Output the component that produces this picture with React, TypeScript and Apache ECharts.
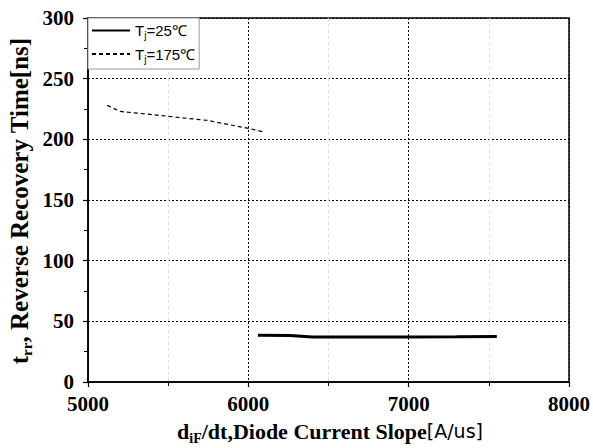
import React, { useEffect, useRef } from "react";
import * as echarts from "echarts";

const xTicks = [5000, 6000, 7000, 8000];
const yTicks = [0, 50, 100, 150, 200, 250, 300];
const seriesNames = ["Tj=25℃", "Tj=175℃"];
const tj25X = [6060, 6260, 6400, 6700, 7000, 7300, 7550];
const tj25Y = [38.5, 38.3, 37.0, 37.0, 37.0, 37.2, 37.6];
const tj175X = [5120, 5200, 5500, 5750, 6000, 6100];
const tj175Y = [228, 223, 219, 215.5, 209, 206];

const serif = "Liberation Serif";
const sans = "Liberation Sans";

export default function App() {
  const ref = useRef<HTMLDivElement>(null);
  useEffect(() => {
    if (!ref.current) return;
    const chart = echarts.init(ref.current, null, { renderer: "svg" });
    const zip = (xs: number[], ys: number[]) => xs.map((x, i) => [x, ys[i]]);
    const tickLabel = {
      fontFamily: serif,
      fontWeight: "bold",
      fontSize: 21,
      color: "#000",
      formatter: (v: number) => "{n|" + String(v) + "}",
      rich: {
        n: { fontFamily: serif, fontWeight: "bold", fontSize: 21, color: "#000" },
      },
    };
    chart.setOption({
      animation: false,
      backgroundColor: "#fff",
      textStyle: { fontFamily: serif },
      grid: {
        left: 88,
        right: 24,
        top: 18,
        bottom: 66,
        show: true,
        borderColor: "#000",
        borderWidth: 1.5,
      },
      legend: {
        left: 88,
        top: 18,
        orient: "vertical",
        itemWidth: 38,
        itemHeight: 14,
        itemGap: 6,
        padding: [5, 4, 5, 3],
        borderColor: "#999",
        borderWidth: 1,
        backgroundColor: "#fff",
        data: seriesNames,
        itemStyle: { opacity: 0 },
        formatter: (name: string) => {
          const rest = name.slice(2);
          return "{t|T}{s|j}{t|" + rest + "}";
        },
        textStyle: {
          fontFamily: sans,
          rich: {
            t: { fontFamily: sans, fontSize: 15, color: "#000", lineHeight: 20 },
            s: { fontFamily: sans, fontSize: 10, color: "#000", verticalAlign: "bottom", lineHeight: 20 },
          },
        },
      },
      xAxis: {
        type: "value",
        min: xTicks[0],
        max: xTicks[xTicks.length - 1],
        interval: 1000,
        axisLine: { show: true, lineStyle: { color: "#000", width: 1.5 } },
        axisTick: { show: true, inside: false, length: 5, lineStyle: { color: "#000", width: 1.2 } },
        minorTick: { show: true, splitNumber: 2, length: 4, lineStyle: { color: "#000", width: 1 } },
        splitLine: { show: true, lineStyle: { color: "#000", type: [2, 2], width: 1 } },
        minorSplitLine: { show: true, lineStyle: { color: "#ddd", type: [3, 3], width: 1 } },
        axisLabel: { ...tickLabel, margin: 11 },
      },
      yAxis: {
        type: "value",
        min: yTicks[0],
        max: yTicks[yTicks.length - 1],
        interval: 50,
        axisLine: { show: true, lineStyle: { color: "#000", width: 1.5 } },
        axisTick: { show: true, inside: false, length: 5, lineStyle: { color: "#000", width: 1.2 } },
        minorTick: { show: true, splitNumber: 2, length: 4, lineStyle: { color: "#000", width: 1 } },
        splitLine: { show: true, lineStyle: { color: "#000", type: [2, 2], width: 1 } },
        axisLabel: { ...tickLabel, margin: 14 },
      },
      graphic: [
        {
          type: "text",
          x: 330,
          y: 431,
          style: {
            text: "{b|d}{bs|iF}{b|/dt,Diode Current Slope}{a|[A/us]}",
            align: "center",
            verticalAlign: "middle",
            rich: {
              b: { fontFamily: serif, fontWeight: "bold", fontSize: 22, fill: "#000", lineHeight: 28 },
              bs: { fontFamily: serif, fontWeight: "bold", fontSize: 14, fill: "#000", verticalAlign: "bottom", lineHeight: 28 },
              a: { fontFamily: "DejaVu Sans", fontSize: 19, fill: "#000", lineHeight: 28 },
            },
          },
        },
        {
          type: "text",
          x: 19,
          y: 201,
          rotation: Math.PI / 2,
          style: {
            text: "{b|t}{bs|rr}{b|, Reverse Recovery Time[ns]}",
            align: "center",
            verticalAlign: "middle",
            rich: {
              b: { fontFamily: serif, fontWeight: "bold", fontSize: 25, fill: "#000", lineHeight: 30 },
              bs: { fontFamily: serif, fontWeight: "bold", fontSize: 15, fill: "#000", verticalAlign: "bottom", lineHeight: 30 },
            },
          },
        },
      ],
      series: [
        {
          name: seriesNames[0],
          type: "line",
          data: zip(tj25X, tj25Y),
          symbol: "none",
          smooth: false,
          lineStyle: { color: "#000", width: 3, type: "solid" },
          itemStyle: { color: "#000" },
        },
        {
          name: seriesNames[1],
          type: "line",
          data: zip(tj175X, tj175Y),
          symbol: "none",
          smooth: false,
          lineStyle: { color: "#000", width: 1.2, type: [4, 3] },
          itemStyle: { color: "#000" },
        },
      ],
    });
    return () => chart.dispose();
  }, []);
  return (
    <div
      ref={ref}
      style={{ position: "fixed", left: 0, top: 0, width: 593, height: 448, background: "#fff" }}
    />
  );
}
